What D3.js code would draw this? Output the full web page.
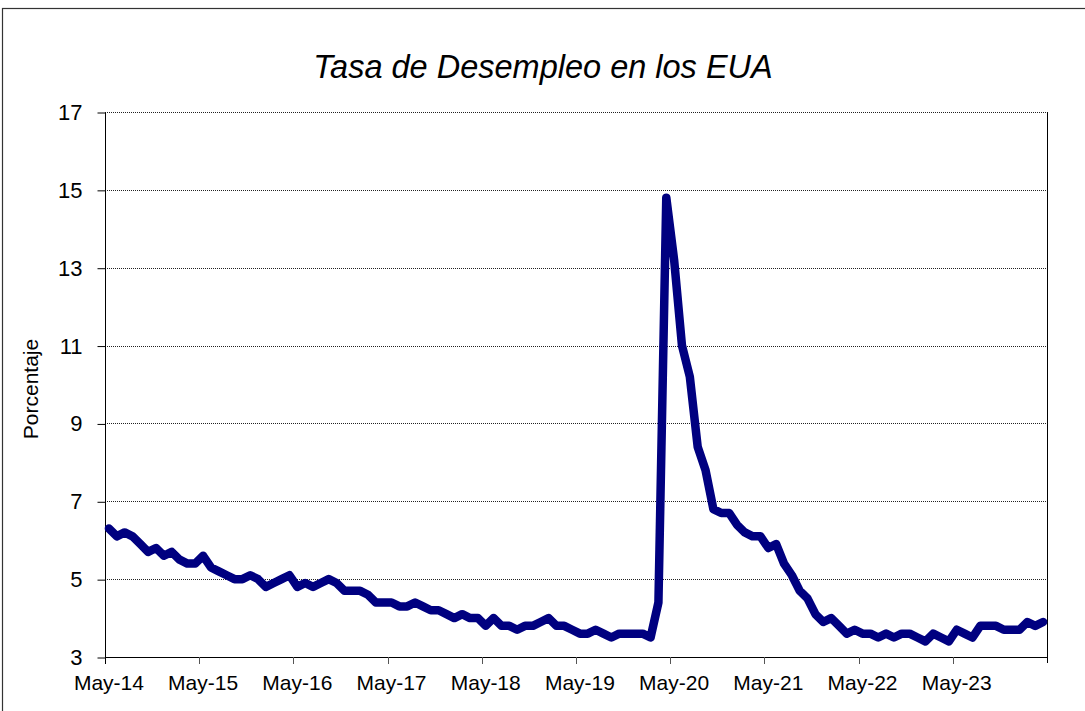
<!DOCTYPE html>
<html>
<head>
<meta charset="utf-8">
<script src="https://cdn.jsdelivr.net/npm/d3@7"></script>
<style>
  body { margin: 0; background: #fff; }
  svg { display: block; font-family: Arial, "Liberation Sans", sans-serif; }
</style>
</head>
<body>
<svg id="chart" width="1085" height="711"></svg>
<script>
// monthly categories, May-2014 .. Apr-2024
var monthNames = ["Jan","Feb","Mar","Apr","May","Jun","Jul","Aug","Sep","Oct","Nov","Dec"];
var years = [14,15,16,17,18,19,20,21,22,23,24];
var categories = [];
years.forEach(function(y){
  monthNames.forEach(function(m, j){
    if ((y == 14 && j < 4) || (y == 24 && j > 3)) return;
    categories.push(m + "-" + y);
  });
});

// tasa de desempleo (%)
var tasa = [
  6.3, 6.1, 6.2, 6.1, 5.9, 5.7, 5.8, 5.6,
  5.7, 5.5, 5.4, 5.4, 5.6, 5.3, 5.2, 5.1, 5.0, 5.0, 5.1, 5.0,
  4.8, 4.9, 5.0, 5.1, 4.8, 4.9, 4.8, 4.9, 5.0, 4.9, 4.7, 4.7,
  4.7, 4.6, 4.4, 4.4, 4.4, 4.3, 4.3, 4.4, 4.3, 4.2, 4.2, 4.1,
  4.0, 4.1, 4.0, 4.0, 3.8, 4.0, 3.8, 3.8, 3.7, 3.8, 3.8, 3.9,
  4.0, 3.8, 3.8, 3.7, 3.6, 3.6, 3.7, 3.6, 3.5, 3.6, 3.6, 3.6,
  3.6, 3.5, 4.4, 14.8, 13.2, 11.0, 10.2, 8.4, 7.8, 6.8, 6.7, 6.7,
  6.4, 6.2, 6.1, 6.1, 5.8, 5.9, 5.4, 5.1, 4.7, 4.5, 4.1, 3.9,
  4.0, 3.8, 3.6, 3.7, 3.6, 3.6, 3.5, 3.6, 3.5, 3.6, 3.6, 3.5,
  3.4, 3.6, 3.5, 3.4, 3.7, 3.6, 3.5, 3.8, 3.8, 3.8, 3.7, 3.7,
  3.7, 3.9, 3.8, 3.9
];

var yTicks = [3, 5, 7, 9, 11, 13, 15, 17];
var xLabels = ["May-14","May-15","May-16","May-17","May-18","May-19","May-20","May-21","May-22","May-23"];

var svg = d3.select("#chart");
var pLeft = 105, pRight = 1047, pTop = 112, pBottom = 657;

var x = d3.scaleBand().domain(categories).range([pLeft, pRight]).padding(0);
var y = d3.scaleLinear().domain([3, 17]).range([pBottom, pTop]);

// outer frame
svg.append("rect")
  .attr("x", 2.5).attr("y", 8.5)
  .attr("width", 1100).attr("height", 720)
  .attr("fill", "none").attr("stroke", "#333").attr("stroke-width", 1.2);

// title
svg.append("text")
  .attr("x", 543).attr("y", 78)
  .attr("text-anchor", "middle")
  .style("font-size", "32.5px").style("font-style", "italic")
  .text("Tasa de Desempleo en los EUA");

// gridlines
svg.append("g").selectAll("line")
  .data(yTicks.filter(function(d){ return d > 3; }))
  .enter().append("line")
  .attr("x1", pLeft).attr("x2", pRight)
  .attr("y1", function(d){ return Math.round(y(d)) + 0.5; })
  .attr("y2", function(d){ return Math.round(y(d)) + 0.5; })
  .attr("stroke", "#222").attr("stroke-dasharray", "1,1");

// y axis
var yAxis = d3.axisLeft(y).tickValues(yTicks).tickSize(8).tickPadding(15).tickFormat(d3.format("d"));
var gy = svg.append("g").attr("transform", "translate(" + (pLeft + 0.5) + ",0.5)").call(yAxis);
gy.selectAll("text").style("font-size", "22px").attr("fill", "#000");
gy.selectAll("line").attr("stroke", "#000");
gy.select(".domain").attr("stroke", "#000").attr("d", "M0," + pTop + "V" + pBottom);

// right border
svg.append("line")
  .attr("x1", pRight + 0.5).attr("x2", pRight + 0.5)
  .attr("y1", pTop).attr("y2", pBottom + 6)
  .attr("stroke", "#000");

// x axis: ticks at category boundaries, labels centred on the category
var gx = svg.append("g");
gx.append("line")
  .attr("x1", pLeft).attr("x2", pRight + 1)
  .attr("y1", pBottom + 0.5).attr("y2", pBottom + 0.5)
  .attr("stroke", "#000");
gx.selectAll("line.tick")
  .data(xLabels.slice(1))
  .enter().append("line").attr("class", "tick")
  .attr("x1", function(d){ return Math.round(x(d)) + 0.5; })
  .attr("x2", function(d){ return Math.round(x(d)) + 0.5; })
  .attr("y1", pBottom).attr("y2", pBottom + 7)
  .attr("stroke", "#555");
gx.append("line")
  .attr("x1", pLeft + 0.5).attr("x2", pLeft + 0.5)
  .attr("y1", pBottom).attr("y2", pBottom + 7)
  .attr("stroke", "#000");
gx.selectAll("text")
  .data(xLabels)
  .enter().append("text")
  .attr("x", function(d){ return x(d) + x.bandwidth() / 2; })
  .attr("y", 690)
  .attr("text-anchor", "middle")
  .style("font-size", "21px")
  .text(function(d){ return d; });

// y label
svg.append("text")
  .attr("transform", "translate(38,389) rotate(-90)")
  .attr("text-anchor", "middle")
  .style("font-size", "21px")
  .text("Porcentaje");

// series
var line = d3.line()
  .x(function(d, i){ return x(categories[i]) + x.bandwidth() / 2; })
  .y(function(d){ return y(d); });

svg.append("path")
  .datum(tasa)
  .attr("d", line)
  .attr("fill", "none")
  .attr("stroke", "#000080")
  .attr("stroke-width", 8.5)
  .attr("stroke-linejoin", "round")
  .attr("stroke-linecap", "round");
</script>
</body>
</html>
